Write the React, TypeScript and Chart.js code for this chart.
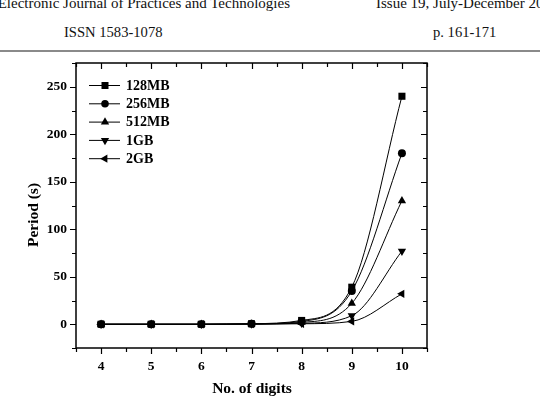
import React, { useEffect, useRef } from "react";
import { Chart, registerables } from "chart.js";

Chart.register(...registerables);

const digits = [4, 5, 6, 7, 8, 9, 10];
const seriesLabels = ["128MB", "256MB", "512MB", "1GB", "2GB"];
const s128 = [0, 0, 0, 0.5, 4, 39, 240];
const s256 = [0, 0, 0, 0.4, 3, 35, 180];
const s512 = [0, 0, 0, 0.3, 2, 22, 130];
const s1g = [0, 0, 0, 0.2, 1, 9, 77];
const s2g = [0, 0, 0, 0.1, 0.5, 3, 32];
const yTicks = [0, 50, 100, 150, 200, 250];
const xTitle = "No. of digits";
const yTitle = "Period (s)";

const FONT = '"Liberation Serif", "Times New Roman", serif';

type Shape = "rect" | "circle" | "up" | "down" | "left";
const shapes: Shape[] = ["rect", "circle", "up", "down", "left"];
const seriesValues = [s128, s256, s512, s1g, s2g];

function drawMarker(ctx: CanvasRenderingContext2D, shape: Shape, x: number, y: number) {
  ctx.beginPath();
  if (shape === "rect") {
    ctx.rect(x - 3.5, y - 3.5, 7, 7);
  } else if (shape === "circle") {
    ctx.arc(x, y, 3.8, 0, Math.PI * 2);
  } else {
    const r = 4.8;
    let base = -Math.PI / 2;
    if (shape === "down") base = Math.PI / 2;
    if (shape === "left") base = Math.PI;
    for (let i = 0; i < 3; i++) {
      const a = base + (i * 2 * Math.PI) / 3;
      const px = x + r * Math.cos(a);
      const py = y + r * Math.sin(a);
      if (i === 0) ctx.moveTo(px, py);
      else ctx.lineTo(px, py);
    }
    ctx.closePath();
  }
  ctx.fill();
}

const framePlugin = {
  id: "frame",
  afterDraw(chart: any) {
    const ctx = chart.ctx as CanvasRenderingContext2D;
    const { left, right, top, bottom } = chart.chartArea;
    const xs = chart.scales.x;
    const ys = chart.scales.y;
    ctx.save();
    ctx.strokeStyle = "#000";
    ctx.lineWidth = 1.5;
    ctx.strokeRect(left, top, right - left, bottom - top);
    ctx.lineWidth = 1.2;
    ctx.beginPath();
    for (let v = 3.5; v <= 10.5001; v += 0.5) {
      const px = Math.round(xs.getPixelForValue(v)) + 0.5;
      const major = Math.abs(v - Math.round(v)) < 1e-6;
      const len = major ? 6 : 4;
      ctx.moveTo(px, bottom);
      ctx.lineTo(px, bottom + len);
      ctx.moveTo(px, top);
      ctx.lineTo(px, top + len);
    }
    for (let v = -25; v <= 275.001; v += 25) {
      const py = Math.round(ys.getPixelForValue(v)) + 0.5;
      const major = v % 50 === 0;
      const len = major ? 6 : 4;
      ctx.moveTo(left, py);
      ctx.lineTo(left - len, py);
      ctx.moveTo(right, py);
      ctx.lineTo(right - len, py);
    }
    ctx.stroke();

    ctx.fillStyle = "#000";
    ctx.font = `bold 15.5px ${FONT}`;
    ctx.textAlign = "center";
    ctx.textBaseline = "middle";
    ctx.fillText(xTitle, 252, 389);
    ctx.save();
    ctx.translate(34, 215);
    ctx.rotate(-Math.PI / 2);
    ctx.fillText(yTitle, 0, 0);
    ctx.restore();

    ctx.font = `bold 14px ${FONT}`;
    ctx.textAlign = "left";
    chart.data.datasets.forEach((ds: any, i: number) => {
      const y = 85 + i * 18.3;
      ctx.lineWidth = 1;
      ctx.beginPath();
      ctx.moveTo(89, y + 0.5);
      ctx.lineTo(120, y + 0.5);
      ctx.stroke();
      drawMarker(ctx, shapes[i], 105, y + 0.5);
      ctx.fillText(ds.label, 126, y + 1);
    });
    ctx.restore();
  },
};

export default function App() {
  const ref = useRef<HTMLCanvasElement>(null);
  useEffect(() => {
    if (!ref.current) return;
    const pointStyles: any[] = ["rect", "circle", "triangle", "triangle", "triangle"];
    const rotations = [0, 0, 0, 180, -90];
    const radii = [5, 4, 4.8, 4.8, 4.8];
    const chart = new Chart(ref.current, {
      type: "line",
      data: {
        datasets: seriesLabels.map((label, i) => ({
          label,
          data: digits.map((d, j) => ({ x: d, y: seriesValues[i][j] })),
          borderColor: "#000",
          backgroundColor: "#000",
          borderWidth: 1,
          pointStyle: pointStyles[i],
          rotation: rotations[i],
          pointRadius: radii[i],
          pointBorderWidth: 0,
          cubicInterpolationMode: "monotone" as const,
          fill: false,
        })),
      },
      options: {
        responsive: false,
        animation: false,
        layout: { padding: { top: 63, right: 113, left: 0, bottom: 0 } },
        plugins: { legend: { display: false }, tooltip: { enabled: false } },
        scales: {
          x: {
            type: "linear",
            min: 3.5,
            max: 10.5,
            grid: { display: false, drawTicks: false },
            border: { display: false },
            afterBuildTicks: (s: any) => {
              s.ticks = digits.map((v) => ({ value: v }));
            },
            afterFit: (s: any) => {
              s.height = 53;
            },
            ticks: {
              padding: 10,
              color: "#000",
              maxRotation: 0,
              font: { family: FONT, size: 13.5, weight: "bold" },
            },
          },
          y: {
            type: "linear",
            min: -25,
            max: 275,
            grid: { display: false, drawTicks: false },
            border: { display: false },
            afterBuildTicks: (s: any) => {
              s.ticks = yTicks.map((v) => ({ value: v }));
            },
            afterFit: (s: any) => {
              s.width = 76;
            },
            ticks: {
              padding: 9,
              color: "#000",
              font: { family: FONT, size: 13.5, weight: "bold" },
            },
          },
        },
      },
      plugins: [framePlugin],
    });
    return () => chart.destroy();
  }, []);

  const headerFont: React.CSSProperties = {
    position: "absolute",
    fontFamily: FONT,
    fontSize: "14.6px",
    lineHeight: "16px",
    whiteSpace: "nowrap",
    color: "#111",
  };

  return (
    <div
      style={{
        position: "absolute",
        left: 0,
        top: 0,
        width: 540,
        height: 401,
        background: "#fff",
        overflow: "hidden",
      }}
    >
      <div style={{ ...headerFont, fontSize: "15px", top: -4.8, right: 250 }}>
        Electronic Journal of Practices and Technologies
      </div>
      <div style={{ ...headerFont, fontSize: "15px", top: -4.8, left: 376 }}>
        Issue 19, July-December 2008
      </div>
      <div style={{ ...headerFont, top: 23.5, left: 64 }}>ISSN 1583-1078</div>
      <div style={{ ...headerFont, top: 23.5, left: 433 }}>p. 161-171</div>
      <div
        style={{
          position: "absolute",
          left: 0,
          top: 50,
          width: 540,
          height: 2,
          background: "#8a8a8a",
        }}
      />
      <canvas
        ref={ref}
        width={540}
        height={401}
        style={{ position: "absolute", left: 0, top: 0, width: 540, height: 401 }}
      />
    </div>
  );
}
